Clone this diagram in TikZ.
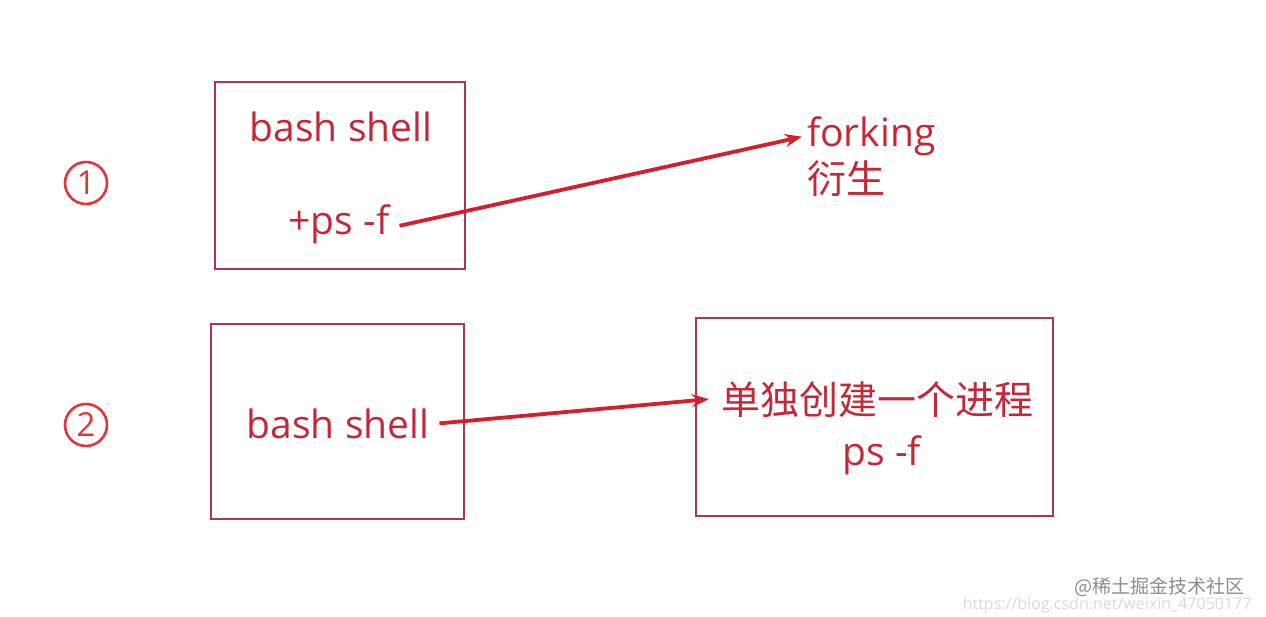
\documentclass[tikz,border=0pt]{standalone}
\usepackage{fontspec}
\setmainfont{Open Sans}
\newfontfamily\cjk{Noto Sans CJK SC}
\usepackage{tikz}
\usetikzlibrary{arrows.meta, positioning}

\definecolor{boxred}{HTML}{A8384A}
\definecolor{txtred}{HTML}{C42838}
\definecolor{arrred}{HTML}{D61F2C}
\definecolor{numred}{HTML}{E0353A}

\tikzset{
  shellbox/.style={draw=boxred, line width=1.8pt, inner sep=0pt},
  label/.style={text=txtred, inner sep=0pt, font=\fontsize{39}{44}\selectfont},
  cjklabel/.style={text=txtred, inner sep=0pt, font=\cjk\fontsize{39}{44}\selectfont},
  num/.style={circle, draw=numred, line width=2.6pt, text=numred, inner sep=0pt,
    minimum size=42pt, font=\fontsize{33}{36}\selectfont},
  fork/.style={draw=arrred, line width=3.8pt, -{Stealth[length=17pt, width=13pt]}},
}

\begin{document}
\begin{tikzpicture}[x=1pt, y=-1pt]
  \useasboundingbox (0,0) rectangle (1266,617);

  % Step markers
  \node[num] (n1) at (86,183) {1};
  \node[num] (n2) at (86,425) {2};

  % Case 1: forking
  \node[shellbox, minimum width=250pt, minimum height=187pt] (box1) at (340,175.5) {};
  \node[label, anchor=base] (bash1) at (341,142) {bash shell};
  \node[label, anchor=base] (ps1) at (339,235) {+ps -f};
  \node[label, anchor=base west] (fork1) at (807,147) {forking};
  \node[cjklabel, anchor=base west] (fork2) at (807,194) {衍生};
  \draw[fork] ([xshift=10pt, yshift=-1pt]ps1.east) -- ([xshift=-5pt]fork1.west);

  % Case 2: separate process
  \node[shellbox, minimum width=253pt, minimum height=195pt] (box2) at (337.5,421.5) {};
  \node[label, anchor=base] (bash2) at (338,438) {bash shell};
  \node[shellbox, minimum width=357pt, minimum height=198pt] (box3) at (874.5,417) {};
  \node[cjklabel, anchor=base] (proc1) at (877,414) {单独创建一个进程};
  \node[label, anchor=base] (proc2) at (882,465) {ps -f};
  \draw[fork] ([xshift=10pt]bash2.east) -- ([xshift=-12pt]proc1.west);

  % Watermark
  \node[text=black!15, font=\fontsize{16}{18}\selectfont, anchor=base east] (url) at (1255,609) {https://blog.csdn.net/weixin\_47050177};
  \node[text=black!45, font=\cjk\fontsize{19}{22}\selectfont, anchor=base east] (mark) at (1248,593) {@稀土掘金技术社区};
\end{tikzpicture}
\end{document}
